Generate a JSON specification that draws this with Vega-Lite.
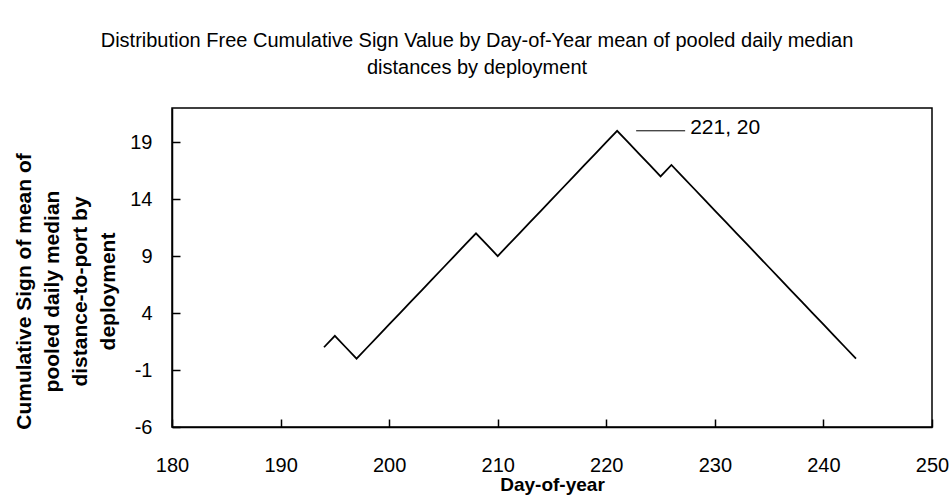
{
  "$schema": "https://vega.github.io/schema/vega-lite/v6.json",
  "autosize": {"type": "none"},
  "padding": {"left": 172, "top": 108, "right": 20, "bottom": 74},
  "width": 760,
  "height": 319,
  "background": "white",
  "config": {
    "font": "Liberation Sans",
    "view": {"stroke": "black", "strokeWidth": 1.5}
  },
  "title": {
    "text": ["Distribution Free Cumulative Sign Value by Day-of-Year mean of pooled daily median", "distances by deployment"],
    "fontSize": 20,
    "fontWeight": "normal",
    "font": "Liberation Sans",
    "color": "black",
    "lineHeight": 27,
    "anchor": "middle",
    "dx": -75,
    "offset": 30
  },
  "data": {
    "values": [
      {"day": 194, "value": 1}, {"day": 195, "value": 2}, {"day": 196, "value": 1}, {"day": 197, "value": 0},
      {"day": 198, "value": 1}, {"day": 199, "value": 2}, {"day": 200, "value": 3}, {"day": 201, "value": 4},
      {"day": 202, "value": 5}, {"day": 203, "value": 6}, {"day": 204, "value": 7}, {"day": 205, "value": 8},
      {"day": 206, "value": 9}, {"day": 207, "value": 10}, {"day": 208, "value": 11}, {"day": 209, "value": 10},
      {"day": 210, "value": 9}, {"day": 211, "value": 10}, {"day": 212, "value": 11}, {"day": 213, "value": 12},
      {"day": 214, "value": 13}, {"day": 215, "value": 14}, {"day": 216, "value": 15}, {"day": 217, "value": 16},
      {"day": 218, "value": 17}, {"day": 219, "value": 18}, {"day": 220, "value": 19}, {"day": 221, "value": 20},
      {"day": 222, "value": 19}, {"day": 223, "value": 18}, {"day": 224, "value": 17}, {"day": 225, "value": 16},
      {"day": 226, "value": 17}, {"day": 227, "value": 16}, {"day": 228, "value": 15}, {"day": 229, "value": 14},
      {"day": 230, "value": 13}, {"day": 231, "value": 12}, {"day": 232, "value": 11}, {"day": 233, "value": 10},
      {"day": 234, "value": 9}, {"day": 235, "value": 8}, {"day": 236, "value": 7}, {"day": 237, "value": 6},
      {"day": 238, "value": 5}, {"day": 239, "value": 4}, {"day": 240, "value": 3}, {"day": 241, "value": 2},
      {"day": 242, "value": 1}, {"day": 243, "value": 0}
    ]
  },
  "layer": [
    {
      "mark": {"type": "line", "color": "black", "strokeWidth": 1.8},
      "encoding": {
        "x": {
          "field": "day", "type": "quantitative",
          "scale": {"domain": [180, 250], "nice": false, "zero": false},
          "axis": {
            "title": "Day-of-year",
            "values": [180, 190, 200, 210, 220, 230, 240, 250],
            "grid": false,
            "domainColor": "black", "domainWidth": 1.5,
            "tickColor": "black", "tickWidth": 1.5, "tickSize": -8,
            "labelFontSize": 20, "labelColor": "black", "labelPadding": 36,
            "labelFlush": false,
            "titleFontSize": 19, "titleFontWeight": "bold", "titleColor": "black",
            "titlePadding": 0
          }
        },
        "y": {
          "field": "value", "type": "quantitative",
          "scale": {"domain": [-6, 22], "nice": false, "zero": false},
          "axis": {
            "title": ["Cumulative Sign of mean of", "pooled daily median", "distance-to-port by", "deployment"],
            "values": [-6, -1, 4, 9, 14, 19],
            "labelExpr": "toString(datum.value)",
            "grid": false,
            "domainColor": "black", "domainWidth": 1.5,
            "tickColor": "black", "tickWidth": 1.5, "tickSize": -8,
            "labelFontSize": 20, "labelColor": "black", "labelPadding": 28,
            "labelFlush": false,
            "titleFontSize": 21, "titleFontWeight": "bold", "titleColor": "black",
            "titleLineHeight": 28,
            "titleAngle": -90,
            "titleAlign": "center",
            "titleBaseline": "middle",
            "titleX": -148,
            "titleY": 183
          }
        }
      }
    },
    {
      "data": {"values": [{"day": 221, "value": 20, "label": "221, 20"}]},
      "mark": {"type": "rule", "color": "black", "strokeWidth": 1, "xOffset": 19, "x2Offset": 68},
      "encoding": {
        "x": {"field": "day", "type": "quantitative"},
        "x2": {"field": "day"},
        "y": {"field": "value", "type": "quantitative"}
      }
    },
    {
      "data": {"values": [{"day": 221, "value": 20, "label": "221, 20"}]},
      "mark": {"type": "text", "align": "left", "baseline": "middle", "dx": 73, "dy": -3, "fontSize": 21, "color": "black", "font": "Liberation Sans"},
      "encoding": {
        "x": {"field": "day", "type": "quantitative"},
        "y": {"field": "value", "type": "quantitative"},
        "text": {"field": "label"}
      }
    }
  ]
}
